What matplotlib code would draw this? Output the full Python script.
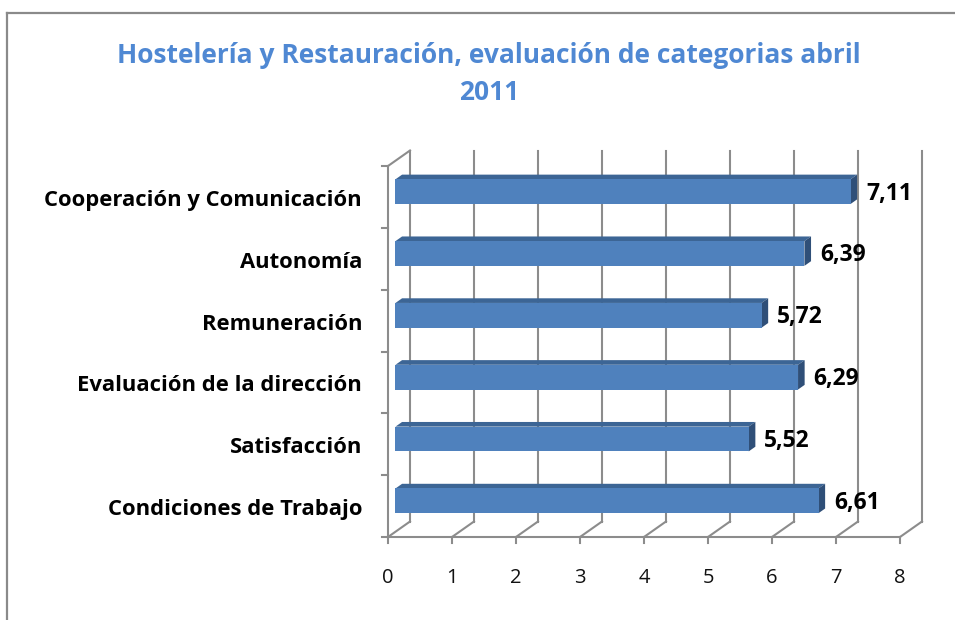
import matplotlib
matplotlib.use("Agg")
import matplotlib.pyplot as plt
from matplotlib.patches import Polygon, Rectangle
from matplotlib.lines import Line2D

categories = ["Condiciones de Trabajo", "Satisfacción", "Evaluación de la dirección",
              "Remuneración", "Autonomía", "Cooperación y Comunicación"]
values = [6.61, 5.52, 6.29, 5.72, 6.39, 7.11]
value_labels = ["6,61", "5,52", "6,29", "5,72", "6,39", "7,11"]
xticks = [0, 1, 2, 3, 4, 5, 6, 7, 8]
title = "Hostelería y Restauración, evaluación de categorias abril\n2011"

plt.rcParams['font.family'] = ['Open Sans', 'DejaVu Sans']

W, H = 955, 620
fig = plt.figure(figsize=(W / 100, H / 100), dpi=100)

# outer chart border
fig.add_artist(Line2D([6.5 / W, 1.0], [1 - 12.5 / H, 1 - 12.5 / H], transform=fig.transFigure,
                      color="#8a8a8a", lw=1.6))
fig.add_artist(Line2D([6.5 / W, 6.5 / W], [0, 1 - 12.5 / H], transform=fig.transFigure,
                      color="#8a8a8a", lw=1.6))

# axes: front plane x 388..900 px, y 537..166 px
ax = fig.add_axes([388 / W, (H - 537) / H, 512 / W, 371 / H])
xmax = 8
n = len(categories)
ax.set_xlim(0, xmax)
ax.set_ylim(0, n)
ax.axis("off")

DX = 22 / 64.0      # depth offset in x data units
DY = 15.5 / (371 / n)  # depth offset in y data units
grid_c = "#8c8c8c"
lw = 1.5

# back wall gridlines and floor diagonals
for k in xticks:
    ax.plot([k + DX, k + DX], [DY, n + DY], color=grid_c, lw=lw, clip_on=False, zorder=1)
    ax.plot([k, k + DX], [0, DY], color=grid_c, lw=lw, clip_on=False, zorder=1)
# left wall
ax.plot([0, 0], [0, n], color=grid_c, lw=lw, clip_on=False, zorder=1)
ax.plot([0, DX], [n, n + DY], color=grid_c, lw=lw, clip_on=False, zorder=1)
# front axis
ax.plot([0, xmax], [0, 0], color=grid_c, lw=lw, clip_on=False, zorder=1)

# tick marks
tick_len_x = 6 / 64.0
tick_len_y = 6 / (371 / n)
for k in xticks:
    ax.plot([k, k], [0, -tick_len_y], color=grid_c, lw=lw, clip_on=False, zorder=1)
    ax.text(k, -41 / (371 / n), str(k), ha="center", va="center", fontsize=14.5, color="#111111")
for j in range(n + 1):
    ax.plot([0, -tick_len_x], [j, j], color=grid_c, lw=lw, clip_on=False, zorder=1)

# bars (pseudo-3D)
f0, f1 = 0.34, 0.64
h = 0.40
front_c = "#4f81bd"
top_c = "#3c6595"
side_c = "#2f4f78"
for i, (v, lab) in enumerate(zip(values, value_labels)):
    c = i + 0.5
    x0 = f0 * DX
    y0 = c - h / 2 + f0 * DY
    y1 = c + h / 2 + f0 * DY
    ddx = (f1 - f0) * DX
    ddy = (f1 - f0) * DY
    ax.add_patch(Polygon([(x0, y1), (x0 + v, y1), (x0 + v + ddx, y1 + ddy), (x0 + ddx, y1 + ddy)],
                         closed=True, facecolor=top_c, edgecolor="none", zorder=3, clip_on=False))
    ax.add_patch(Polygon([(x0 + v, y0), (x0 + v, y1), (x0 + v + ddx, y1 + ddy), (x0 + v + ddx, y0 + ddy)],
                         closed=True, facecolor=side_c, edgecolor="none", zorder=3, clip_on=False))
    ax.add_patch(Rectangle((x0, y0), v, h, facecolor=front_c, edgecolor="none", zorder=4, clip_on=False))
    ax.annotate(lab, xy=(x0 + v + ddx, (y0 + y1) / 2), xytext=(9, -2),
                textcoords="offset pixels", ha="left", va="center",
                fontsize=16.5, fontweight="bold", color="#000000", zorder=5)
    ax.annotate(categories[i], xy=(0, c), xytext=(-26, -3.5), textcoords="offset pixels",
                ha="right", va="center", fontsize=15.8, fontweight="bold", color="#000000")

fig.text(489 / W, 1 - 74 / H, title, ha="center", va="center", fontsize=19,
         fontweight="bold", color="#4f88d3", linespacing=1.5)

fig.savefig("out.png", dpi=100)
